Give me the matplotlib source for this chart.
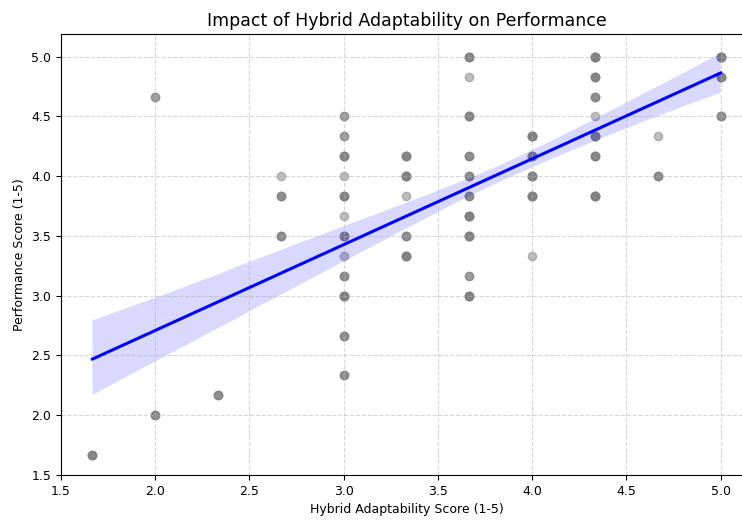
import numpy as np
import matplotlib
matplotlib.use('Agg')
import matplotlib.pyplot as plt
import seaborn as sns

# 每个位置的点 (x, y) 以及重叠次数
adapt = [1.667, 2.0, 2.0, 2.333,
         2.667, 2.667, 2.667,
         3.0, 3.0, 3.0, 3.0, 3.0, 3.0, 3.0, 3.0, 3.0, 3.0, 3.0, 3.0,
         3.333, 3.333, 3.333, 3.333, 3.333,
         3.667, 3.667, 3.667, 3.667, 3.667, 3.667, 3.667, 3.667, 3.667, 3.667,
         4.0, 4.0, 4.0, 4.0, 4.0,
         4.333, 4.333, 4.333, 4.333, 4.333, 4.333, 4.333,
         4.667, 4.667,
         5.0, 5.0, 5.0]
perf = [1.667, 4.667, 2.0, 2.167,
        4.0, 3.833, 3.5,
        4.5, 4.333, 4.167, 4.0, 3.833, 3.667, 3.5, 3.333, 3.167, 3.0, 2.667, 2.333,
        4.167, 4.0, 3.833, 3.5, 3.333,
        5.0, 4.833, 4.5, 4.167, 4.0, 3.833, 3.667, 3.5, 3.167, 3.0,
        4.333, 4.167, 4.0, 3.833, 3.333,
        5.0, 4.833, 4.667, 4.5, 4.333, 4.167, 3.833,
        4.333, 4.0,
        5.0, 4.833, 4.5]
counts = [4, 2, 3, 3,
          1, 3, 3,
          2, 2, 4, 1, 4, 1, 4, 1, 3, 5, 3, 3,
          4, 5, 1, 3, 5,
          4, 1, 4, 3, 3, 3, 5, 5, 2, 5,
          6, 4, 5, 5, 1,
          6, 4, 3, 1, 5, 4, 5,
          1, 3,
          6, 4, 3]

x = np.repeat(adapt, counts)
y = np.repeat(perf, counts)

fig = plt.figure(figsize=(7.42, 5.2), dpi=100)
ax = fig.add_axes([61 / 742, 45 / 520, 691 / 742, 441 / 520])

sns.regplot(x=x, y=y, ax=ax, seed=0,
            scatter_kws={'alpha': 0.5, 'color': 'gray'},
            line_kws={'color': 'blue', 'linewidth': 2.2})

ax.set_xlim(1.5, 5.1667)
ax.set_ylim(1.5, 5.19)
ax.set_title('Impact of Hybrid Adaptability on Performance', fontsize=12.5)
ax.set_xlabel('Hybrid Adaptability Score (1-5)', fontsize=9)
ax.set_ylabel('Performance Score (1-5)', fontsize=9)
ax.tick_params(labelsize=9)
ax.grid(True, linestyle='--', alpha=0.5)

fig.savefig('out.png', dpi=100)
